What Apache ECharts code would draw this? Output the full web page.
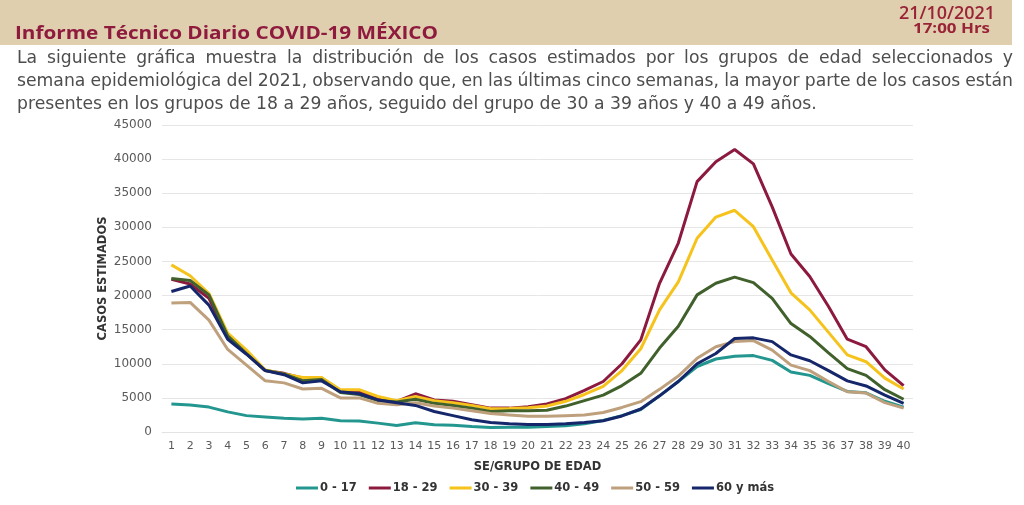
<!DOCTYPE html>
<html><head><meta charset="utf-8">
<script src="https://cdn.jsdelivr.net/npm/echarts@6/dist/echarts.min.js"></script>
<style>html,body{margin:0;padding:0;background:#fff}#c{width:1024px;height:505px}</style>
</head><body><div id="c"></div>
<script>
const weeks = ['1','2','3','4','5','6','7','8','9','10','11','12','13','14','15','16','17','18','19','20','21','22','23','24','25','26','27','28','29','30','31','32','33','34','35','36','37','38','39','40'];
const yTicks = [0, 5000, 10000, 15000, 20000, 25000, 30000, 35000, 40000, 45000];
const seriesNames = ['0 - 17', '18 - 29', '30 - 39', '40 - 49', '50 - 59', '60 y más'];
const g0_17 = [4100,3950,3650,2950,2400,2200,2000,1900,2000,1650,1600,1300,950,1350,1050,1000,800,650,700,700,800,900,1200,1700,2400,3300,5300,7400,9600,10700,11100,11200,10500,8800,8300,7100,5950,5750,4500,3650];
const g18_29 = [22400,21700,19600,13900,11500,9000,8600,7900,7900,6000,5900,5000,4500,5600,4700,4500,4000,3500,3500,3700,4100,4900,6100,7400,10000,13500,21800,27700,36700,39600,41400,39300,33000,26100,22800,18400,13600,12500,9100,6800];
const g30_39 = [24500,22900,20300,14500,12000,9100,8500,8000,8000,6200,6200,5200,4600,5200,4600,4300,3900,3400,3450,3550,3800,4500,5500,6700,9000,12200,17900,22000,28400,31500,32500,30100,25200,20400,17900,14600,11300,10300,7900,6300];
const g40_49 = [22500,22200,20100,14100,11500,9000,8500,7500,7700,5800,5500,4600,4400,4800,4200,3900,3500,3000,3100,3100,3200,3800,4600,5400,6800,8600,12300,15500,20100,21800,22700,21900,19600,15900,14000,11600,9300,8300,6200,4800];
const g50_59 = [18900,19000,16400,12100,9800,7500,7200,6300,6400,5000,5000,4200,4000,4300,3800,3500,3100,2700,2500,2300,2300,2400,2500,2850,3600,4450,6250,8200,10800,12500,13250,13400,12000,9800,9000,7400,5900,5700,4300,3500];
const g60 = [20600,21400,18600,13600,11400,9000,8400,7200,7500,5900,5600,4700,4300,3900,3000,2400,1800,1400,1200,1100,1100,1200,1400,1650,2350,3370,5300,7400,10000,11500,13700,13800,13250,11300,10450,9000,7500,6750,5400,4200];
const colors = ['#23978f', '#8c1a3f', '#f5c31c', '#41612c', '#bfa07c', '#15276a'];
const titleText = 'Informe Técnico Diario COVID-19 MÉXICO';
const dateText = '21/10/2021';
const hourText = '17:00 Hrs';
const paraLines = [
  'La siguiente gráfica muestra la distribución de los casos estimados por los grupos de edad seleccionados y',
  'semana epidemiológica del 2021, observando que, en las últimas cinco semanas, la mayor parte de los casos están',
  'presentes en los grupos de 18 a 29 años, seguido del grupo de 30 a 39 años y 40 a 49 años.'
];

const FAM = '"DejaVu Sans"';
const OS = '"Open Sans"';
const cv = document.createElement('canvas');
const ctx = cv.getContext('2d');
function tw(text, size, weight, family) {
  ctx.font = weight + ' ' + size + 'px ' + family;
  return ctx.measureText(text).width;
}
function fit(text, weight, family, target, base) {
  return base * target / tw(text, base, weight, family);
}
function scaledText(text, weight, family, size, target, x, y, align, fill) {
  const sx = target / tw(text, size, weight, family);
  return { type: 'text', x: x, y: y, scaleX: sx, style: { text: text, font: weight + ' ' + size + 'px ' + family, fill: fill, textAlign: align, textVerticalAlign: 'middle' } };
}

const paraSize = fit(paraLines[2], 'normal', FAM, 800, 16);
const paraColor = '#4d4d4d';
const redText = '#8e1a3e';
const elements = [];
elements.push({ type: 'rect', shape: { x: 0, y: 0, width: 1012, height: 45 }, style: { fill: '#dfcfae' }, silent: true });
elements.push(scaledText(titleText, 'bold', OS, 18.5, 423, 15, 33.5, 'left', redText));
elements.push(scaledText(dateText, '600', OS, 17.5, 96, 995, 14.5, 'right', '#9a2437'));
elements.push(scaledText(hourText, 'bold', OS, 14, 77, 990, 29, 'right', '#9a2437'));

const lineY = [58.5, 81.5, 104.5];
function pushJustified(text, x0, x1, y) {
  const words = text.split(' ');
  const ws = words.map(wd => tw(wd, paraSize, 'normal', FAM));
  const total = ws.reduce((a, b) => a + b, 0);
  const gap = (x1 - x0 - total) / (words.length - 1);
  let x = x0;
  words.forEach((wd, i) => {
    elements.push({ type: 'text', x: x, y: y, style: { text: wd, font: 'normal ' + paraSize + 'px ' + FAM, fill: paraColor, textAlign: 'left', textVerticalAlign: 'middle' } });
    x += ws[i] + gap;
  });
}
pushJustified(paraLines[0], 17, 1013, lineY[0]);
pushJustified(paraLines[1], 17, 1013, lineY[1]);
elements.push({ type: 'text', x: 17, y: lineY[2], style: { text: paraLines[2], font: 'normal ' + paraSize + 'px ' + FAM, fill: paraColor, textAlign: 'left', textVerticalAlign: 'middle' } });

const dataSets = [g0_17, g18_29, g30_39, g40_49, g50_59, g60];
const chart = echarts.init(document.getElementById('c'), null, { renderer: 'canvas' });
chart.setOption({
  animation: false,
  textStyle: { fontFamily: FAM },
  color: colors,
  grid: { left: 162, right: 111, top: 125, bottom: 73, containLabel: false },
  legend: {
    bottom: 6, left: 291, icon: 'rect', itemWidth: 22, itemHeight: 3, itemGap: 12,
    textStyle: { fontSize: 11.5, fontWeight: 'bold', color: '#333', fontFamily: FAM, padding: [0, 0, 0, -3] },
    data: seriesNames
  },
  xAxis: {
    type: 'category', data: weeks, boundaryGap: true,
    name: 'SE/GRUPO DE EDAD', nameLocation: 'middle', nameGap: 29,
    nameTextStyle: { fontSize: 11.5, fontWeight: 'bold', color: '#333' },
    axisLine: { show: true, lineStyle: { color: '#e3e3e3' } },
    axisTick: { show: false },
    axisLabel: { color: '#595959', fontSize: 11, margin: 9, interval: 0 }
  },
  yAxis: {
    type: 'value', min: 0, max: 45000, interval: 5000,
    name: 'CASOS ESTIMADOS', nameLocation: 'middle', nameRotate: 90, nameGap: 53, nameMoveOverlap: false,
    nameTextStyle: { fontSize: 11.5, fontWeight: 'bold', color: '#333' },
    axisLine: { show: false }, axisTick: { show: false },
    splitLine: { lineStyle: { color: '#e6e6e6' } },
    axisLabel: { color: '#595959', fontSize: 12, margin: 10, formatter: v => yTicks.includes(v) ? String(v) : '' }
  },
  series: dataSets.map((d, i) => ({
    name: seriesNames[i], type: 'line', data: d, symbol: 'none', smooth: false,
    lineStyle: { width: 3, color: colors[i] }, itemStyle: { color: colors[i] }
  })),
  graphic: { elements: elements }
});
</script>
</body></html>
